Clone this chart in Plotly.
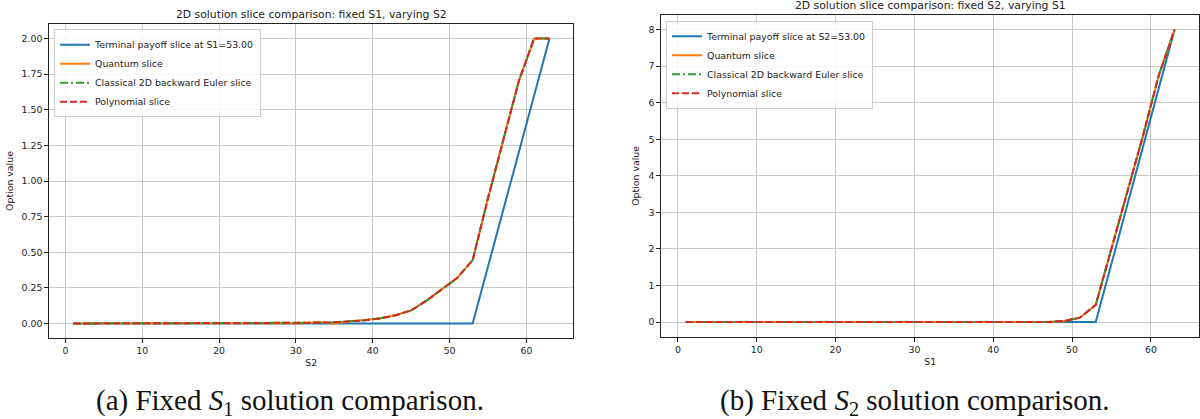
import plotly.graph_objects as go

# ---------------- data ----------------
s_grid = [1, 3, 5, 7, 9, 11, 13, 15, 17, 19, 21, 23, 25, 27, 29, 31,
          33, 35, 37, 39, 41, 43, 45, 47, 49, 51, 53, 55, 57, 59, 61, 63]

# Panel (a): fixed S1, varying S2
payoff_a = [0, 0, 0, 0, 0, 0, 0, 0, 0, 0, 0, 0, 0, 0, 0, 0,
            0, 0, 0, 0, 0, 0, 0, 0, 0, 0, 0.0, 0.4, 0.8, 1.2, 1.6, 2.0]
quantum_a = [0, 0, 0, 0, 0, 0, 0, 0, 0, 0, 0, 0, 0, 0, 0, 0.002,
             0.012, 0.0, 0.013, 0.022, 0.036, 0.058, 0.092, 0.16, 0.24, 0.32,
             0.445, 0.88, 1.29, 1.70, 2.0, 2.0]
classical_a = [0, 0, 0, 0, 0, 0, 0, 0, 0, 0, 0, 0, 0, 0, 0, 0.002,
               0.005, 0.008, 0.013, 0.022, 0.036, 0.058, 0.092, 0.16, 0.24, 0.32,
               0.445, 0.88, 1.29, 1.70, 2.0, 2.0]
poly_a = [0, 0, 0, 0, 0, 0, 0, 0, 0, 0, 0, 0, 0, 0, 0, 0.002,
          0.005, 0.008, 0.013, 0.022, 0.036, 0.058, 0.092, 0.16, 0.24, 0.32,
          0.445, 0.88, 1.29, 1.70, 2.0, 2.0]

# Panel (b): fixed S2, varying S1
payoff_b = [0, 0, 0, 0, 0, 0, 0, 0, 0, 0, 0, 0, 0, 0, 0, 0,
            0, 0, 0, 0, 0, 0, 0, 0, 0, 0, 0.0, 1.6, 3.2, 4.8, 6.4, 8.0]
quantum_b = [0, 0, 0, 0, 0, 0, 0, 0, 0, 0, 0, 0, 0, 0, 0, 0,
             0, 0, 0, 0, 0, 0, 0, 0.005, 0.03, 0.12,
             0.47, 2.0, 3.55, 5.1, 6.75, 8.0]
classical_b = [0, 0, 0, 0, 0, 0, 0, 0, 0, 0, 0, 0, 0, 0, 0, 0,
               0, 0, 0, 0, 0, 0, 0, 0.005, 0.03, 0.12,
               0.47, 2.0, 3.55, 5.1, 6.75, 8.0]
poly_b = [0, 0, 0, 0, 0, 0, 0, 0, 0, 0, 0, 0, 0, 0, 0, 0,
          0, 0, 0, 0, 0, 0, 0, 0.005, 0.03, 0.12,
          0.47, 2.0, 3.55, 5.1, 6.75, 8.0]

names_a = ["Terminal payoff slice at S1=53.00", "Quantum slice",
           "Classical 2D backward Euler slice", "Polynomial slice"]
names_b = ["Terminal payoff slice at S2=53.00", "Quantum slice",
           "Classical 2D backward Euler slice", "Polynomial slice"]

titles = ["2D solution slice comparison: fixed S1, varying S2",
          "2D solution slice comparison: fixed S2, varying S1"]
xlabels = ["S2", "S1"]
ylabel = "Option value"
captions = ["(a) Fixed <i>S</i><sub>1</sub> solution comparison.",
            "(b) Fixed <i>S</i><sub>2</sub> solution comparison."]

# ---------------- styling ----------------
W, H = 1200, 419
FONT = "DejaVu Sans"
FS = 9.4
colors = ["#1f77b4", "#ff7f0e", "#2ca02c", "#d62728"]
dashes = ["solid", "solid", "8px,3px,2px,3px", "7px,3px"]

fig = go.Figure()

def add_panel(xa, ya, legend, series, names):
    for i, (vals, nm) in enumerate(zip(series, names)):
        fig.add_trace(go.Scatter(
            x=s_grid, y=vals, mode="lines", name=nm,
            line=dict(color=colors[i], width=2, dash=dashes[i]),
            xaxis=xa, yaxis=ya, legend=legend))

add_panel("x", "y", "legend", [payoff_a, quantum_a, classical_a, poly_a], names_a)
add_panel("x2", "y2", "legend2", [payoff_b, quantum_b, classical_b, poly_b], names_b)

def px_x(p):
    return p / W

def px_y(p):
    return 1 - p / H

axis_common = dict(
    showline=True, mirror=True, linecolor="#222222", linewidth=1,
    ticks="outside", ticklen=4, tickwidth=1, tickcolor="#222222",
    showgrid=True, gridcolor="#c8c8c8", gridwidth=1,
    zeroline=False, tickfont=dict(family=FONT, size=FS, color="#222222"),
)

dom_a_x = [px_x(49.3), px_x(573.3)]
dom_a_y = [px_y(337.7), px_y(24.3)]
dom_b_x = [px_x(661.3), px_x(1199.0)]
dom_b_y = [px_y(336.7), px_y(15.0)]

fig.update_layout(
    width=W, height=H, margin=dict(l=0, r=0, t=0, b=0),
    paper_bgcolor="white", plot_bgcolor="white",
    font=dict(family=FONT, size=FS, color="#222222"),
    xaxis=dict(domain=dom_a_x, range=[-2.1, 66.1], tickvals=[0, 10, 20, 30, 40, 50, 60],
               anchor="y", title=dict(text=xlabels[0], standoff=4,
                                      font=dict(family=FONT, size=FS)), **axis_common),
    yaxis=dict(domain=dom_a_y, range=[-0.1, 2.1],
               tickvals=[0, 0.25, 0.5, 0.75, 1.0, 1.25, 1.5, 1.75, 2.0],
               tickformat=".2f", anchor="x",
               title=dict(text=ylabel, standoff=6, font=dict(family=FONT, size=FS)),
               **axis_common),
    xaxis2=dict(domain=dom_b_x, range=[-2.1, 66.1], tickvals=[0, 10, 20, 30, 40, 50, 60],
                anchor="y2", title=dict(text=xlabels[1], standoff=4,
                                        font=dict(family=FONT, size=FS)), **axis_common),
    yaxis2=dict(domain=dom_b_y, range=[-0.4, 8.4], tickvals=[0, 1, 2, 3, 4, 5, 6, 7, 8],
                anchor="x2",
                title=dict(text=ylabel, standoff=7, font=dict(family=FONT, size=FS)),
                **axis_common),
    legend=dict(x=px_x(54), y=px_y(29.3), xanchor="left", yanchor="top",
                bgcolor="rgba(255,255,255,0.85)", bordercolor="#cccccc", borderwidth=1,
                font=dict(family=FONT, size=FS, color="#222222"), itemwidth=30,
                tracegroupgap=0),
    legend2=dict(x=px_x(666), y=px_y(20.7), xanchor="left", yanchor="top",
                 bgcolor="rgba(255,255,255,0.85)", bordercolor="#cccccc", borderwidth=1,
                 font=dict(family=FONT, size=FS, color="#222222"), itemwidth=30,
                 tracegroupgap=0),
)

# panel titles
fig.add_annotation(text=titles[0], xref="paper", yref="paper",
                   x=(dom_a_x[0] + dom_a_x[1]) / 2, y=px_y(15), xanchor="center",
                   yanchor="middle", showarrow=False,
                   font=dict(family=FONT, size=10.8, color="#222222"))
fig.add_annotation(text=titles[1], xref="paper", yref="paper",
                   x=(dom_b_x[0] + dom_b_x[1]) / 2, y=px_y(6), xanchor="center",
                   yanchor="middle", showarrow=False,
                   font=dict(family=FONT, size=10.8, color="#222222"))

# captions
fig.add_annotation(text=captions[0], xref="paper", yref="paper",
                   x=px_x(290), y=px_y(402), xanchor="center", yanchor="middle",
                   showarrow=False,
                   font=dict(family="Liberation Serif", size=29, color="#111111"))
fig.add_annotation(text=captions[1], xref="paper", yref="paper",
                   x=px_x(915), y=px_y(402), xanchor="center", yanchor="middle",
                   showarrow=False,
                   font=dict(family="Liberation Serif", size=29, color="#111111"))

fig.write_html("out.html")
